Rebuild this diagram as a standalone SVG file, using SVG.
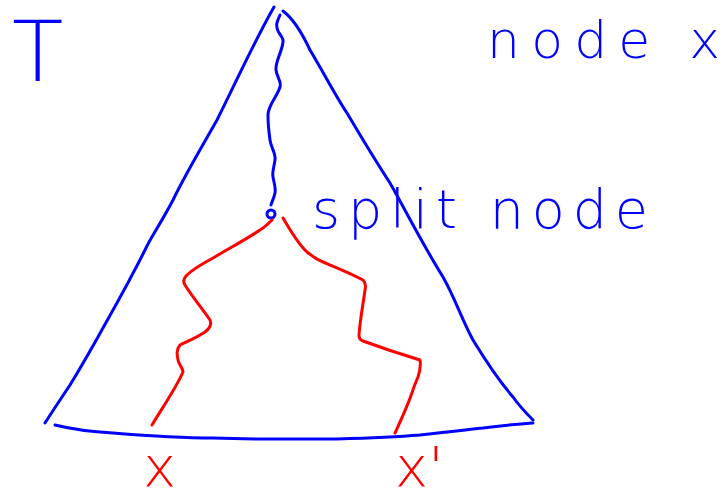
<svg xmlns="http://www.w3.org/2000/svg" width="724" height="501" viewBox="0 0 724 501">
<style>
.b{fill:none;stroke:#0000ff;stroke-width:3;stroke-linecap:round;stroke-linejoin:round}
.r{fill:none;stroke:#ff0000;stroke-width:3;stroke-linecap:round;stroke-linejoin:round}
.tb{font-family:"DejaVu Sans","Liberation Sans",Arial,sans-serif;font-weight:200;fill:#0000ff}
.tr{font-family:"DejaVu Sans","Liberation Sans",Arial,sans-serif;font-weight:200;fill:#ff0000}
</style>
<rect width="724" height="501" fill="#ffffff"/>
<g id="tree">
<path class="b" d="M274,7 C255,40 237,80 217,120 C200,150 185,175 173,200 C160,225 152,235 145,250 C125,290 110,315 98,337 C85,360 78,372 70,385 C60,400 52,412 45,423"/>
<path class="b" d="M283,11 C295,20 303,35 310,50 C325,75 335,95 347,113 C360,135 375,160 390,183 C400,200 420,240 443,277 C455,298 462,320 473,340 C490,368 500,382 513,397 C520,407 527,414 533,420"/>
<path class="b" d="M55,425 C75,430 95,432 113,433 C150,436 180,438 213,438 C240,439 260,439 280,439 C300,439 320,439 337,439 C370,438 395,437 420,435 C445,432 465,430 483,428 C505,425 520,424 533,423"/>
</g>
<g id="split-node">
<circle class="b" cx="271" cy="214" r="4"/>
</g>
<g id="connectors">
<path class="b" d="M280,15 C277,22 276,24 277,28 C278,34 284,37 283,42 C282,52 275,62 276,70 C277,78 282,82 280,87 C277,97 268,105 268,115 C268,125 269,133 270,140 C271,148 276,153 275,160 C274,167 272,172 273,177 C274,183 276,188 275,193 C274,198 272,201 271,205"/>
<path class="r" d="M272,220 C268,224 265,227 260,230 C245,240 228,249 213,258 C200,265 192,270 187,275 C183,279 183,282 185,285 C193,298 202,308 210,320 C212,325 209,329 205,332 C196,338 186,342 180,345 C176,350 177,355 178,360 C179,365 183,368 183,372 C175,390 162,408 152,425"/>
<path class="r" d="M283,218 C290,230 298,244 307,252 C313,257 318,260 323,262 C335,267 350,273 363,280 C366,283 366,286 365,290 C363,305 360,320 359,335 C359,338 360,340 363,341 C382,348 400,354 420,360 C421,366 420,371 418,377 C416,382 414,386 413,390 C408,405 401,420 395,433"/>
</g>
<g id="label-T">
<text class="tb" x="12" y="81" font-size="84">T</text>
</g>
<g id="label-node-x">
<text class="tb" x="487" y="58" font-size="52" textLength="233" lengthAdjust="spacing">node x</text>
</g>
<g id="label-split-node">
<text class="tb" x="312" y="228" font-size="54" textLength="336" lengthAdjust="spacing">split node</text>
</g>
<g id="label-x">
<text class="tr" x="143" y="486" font-size="56">x</text>
</g>
<g id="label-x-prime">
<text class="tr" x="395" y="486" font-size="56">x'</text>
</g>
</svg>
